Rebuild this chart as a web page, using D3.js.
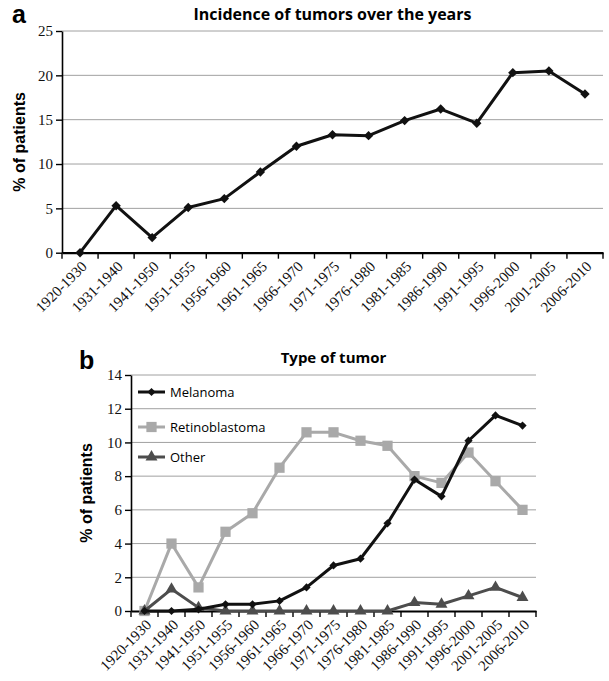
<!DOCTYPE html>
<html>
<head>
<meta charset="utf-8">
<script src="https://cdn.jsdelivr.net/npm/d3@7"></script>
<style>
  body { margin: 0; background: #fff; }
  svg { display: block; }
  .tick text { font-family: 'Liberation Serif', serif; font-size: 15px; fill: #111; }
  .panel-title { font-family: 'Open Sans', sans-serif; font-weight: 700; }
  .panel-letter { font-family: 'Liberation Sans', Arial, sans-serif; font-weight: 700; font-size: 25px; }
  .y-label { font-family: 'Liberation Sans', Arial, sans-serif; font-weight: 700; font-size: 16px; }
  .legend text { font-family: 'Open Sans', sans-serif; font-size: 13px; }
</style>
</head>
<body>
<div id="chart"></div>
<script>
'use strict';

// periods on the x axis (same for both panels)
const periods = ['1920-1930', '1931-1940', '1941-1950', '1951-1955', '1956-1960', '1961-1965',
  '1966-1970', '1971-1975', '1976-1980', '1981-1985', '1986-1990', '1991-1995',
  '1996-2000', '2001-2005', '2006-2010'];

// panel a: % of patients
const incidence = [0, 5.3, 1.7, 5.1, 6.1, 9.1, 12.0, 13.3, 13.2, 14.9, 16.2, 14.6, 20.3, 20.5, 17.9];
const incidenceTicks = [0, 5, 10, 15, 20, 25];

// panel b: type of tumor
const melanoma = [0, 0, 0.1, 0.4, 0.4, 0.6, 1.4, 2.7, 3.1, 5.2, 7.8, 6.8, 10.1, 11.6, 11.0];
const retinoblastoma = [0, 4.0, 1.4, 4.7, 5.8, 8.5, 10.6, 10.6, 10.1, 9.8, 8.0, 7.6, 9.4, 7.7, 6.0];
const other = [0, 1.3, 0.2, 0, 0, 0, 0, 0, 0, 0, 0.5, 0.4, 0.9, 1.4, 0.8];
const typeTicks = [0, 2, 4, 6, 8, 10, 12, 14];
const typeNames = ['Melanoma', 'Retinoblastoma', 'Other'];

const svg = d3.select('#chart').append('svg')
    .attr('width', 609)
    .attr('height', 681);

// marker shapes
const diamond = (size) => d3.symbol().type(d3.symbolSquare).size(size);
const shapes = {
  Melanoma: { color: '#111', path: diamond(34)(), rotate: 45 },
  Retinoblastoma: { color: '#a9a9a9', path: d3.symbol().type(d3.symbolSquare).size(105)(), rotate: 0 },
  Other: { color: '#4d4d4d', path: d3.symbol().type(d3.symbolTriangle).size(62)(), rotate: 0 }
};

function drawPanel(box, ticks) {
  const x = d3.scaleBand()
      .domain(periods)
      .range([box.left, box.right]);

  const y = d3.scaleLinear()
      .domain([0, d3.max(ticks)])
      .range([box.bottom, box.top]);

  const g = svg.append('g');

  // gridlines
  g.selectAll('.grid')
      .data(ticks.filter(t => t > 0))
    .enter().append('line')
      .attr('class', 'grid')
      .attr('x1', box.left)
      .attr('x2', box.right)
      .attr('y1', d => y(d))
      .attr('y2', d => y(d))
      .style('stroke', '#a0a0a0')
      .style('stroke-width', 1);

  // y axis
  const yAxis = g.append('g')
      .attr('transform', `translate(${box.left}, 0)`)
      .call(d3.axisLeft(y).tickValues(ticks).tickSize(6).tickSizeOuter(0).tickPadding(3));
  yAxis.select('.domain').style('stroke', '#000').style('stroke-width', 1.6);
  yAxis.selectAll('.tick line').style('stroke', '#000').style('stroke-width', 1.4);

  // x axis, labels at band centres
  const xAxis = g.append('g')
      .attr('transform', `translate(0, ${box.bottom})`)
      .call(d3.axisBottom(x).tickSize(0).tickSizeOuter(0));
  xAxis.select('.domain').style('stroke', '#000').style('stroke-width', 2.2);
  xAxis.selectAll('.tick text')
      .attr('x', 0)
      .attr('y', 0)
      .attr('dy', '0.35em')
      .attr('text-anchor', 'end')
      .attr('transform', 'translate(4, 11) rotate(-45)');

  // x ticks at band edges
  const edges = periods.map(p => x(p)).concat([box.right]);
  g.selectAll('.x-edge')
      .data(edges)
    .enter().append('line')
      .attr('x1', d => d)
      .attr('x2', d => d)
      .attr('y1', box.bottom)
      .attr('y2', box.bottom + 6)
      .style('stroke', '#000')
      .style('stroke-width', 1.4);

  return { g, x, y };
}

function drawSeries(panel, values, style, width) {
  const cx = (d, i) => panel.x(periods[i]) + panel.x.bandwidth() / 2;
  const line = d3.line()
      .x(cx)
      .y(d => panel.y(d));

  panel.g.append('path')
      .datum(values)
      .attr('d', line)
      .style('fill', 'none')
      .style('stroke', style.color)
      .style('stroke-width', width)
      .style('stroke-linejoin', 'round');

  panel.g.selectAll(null)
      .data(values)
    .enter().append('path')
      .attr('d', style.path)
      .attr('transform', (d, i) => `translate(${cx(d, i)}, ${panel.y(d)}) rotate(${style.rotate})`)
      .style('fill', style.color);
}

// ---- panel a ----
const a = drawPanel({ left: 62, right: 603, top: 31, bottom: 252.7 }, incidenceTicks);
drawSeries(a, incidence, { color: '#111', path: diamond(44)(), rotate: 45 }, 3);

svg.append('text')
    .attr('class', 'panel-letter')
    .attr('x', 12)
    .attr('y', 23)
    .text('a');

svg.append('text')
    .attr('class', 'panel-title')
    .attr('x', (62 + 603) / 2)
    .attr('y', 20)
    .attr('text-anchor', 'middle')
    .style('font-size', '16px')
    .text('Incidence of tumors over the years');

svg.append('text')
    .attr('class', 'y-label')
    .attr('text-anchor', 'middle')
    .attr('transform', `translate(25, ${(31 + 252.7) / 2}) rotate(-90)`)
    .text('% of patients');

// ---- panel b ----
const b = drawPanel({ left: 131, right: 536, top: 375, bottom: 611 }, typeTicks);
drawSeries(b, retinoblastoma, shapes.Retinoblastoma, 3);
drawSeries(b, other, shapes.Other, 3);
drawSeries(b, melanoma, shapes.Melanoma, 3);

svg.append('text')
    .attr('class', 'panel-letter')
    .attr('x', 79)
    .attr('y', 369)
    .text('b');

svg.append('text')
    .attr('class', 'panel-title')
    .attr('x', (131 + 536) / 2)
    .attr('y', 363)
    .attr('text-anchor', 'middle')
    .style('font-size', '15px')
    .text('Type of tumor');

svg.append('text')
    .attr('class', 'y-label')
    .attr('text-anchor', 'middle')
    .attr('transform', `translate(92, ${(375 + 611) / 2}) rotate(-90)`)
    .text('% of patients');

// legend
const legendY = [392, 427, 457];
const legend = svg.append('g')
    .attr('class', 'legend');

legend.selectAll('g')
    .data(typeNames)
  .enter().append('g')
    .attr('transform', (d, i) => `translate(138, ${legendY[i]})`)
    .each(function(name) {
      const item = d3.select(this);
      const s = shapes[name];
      item.append('line')
          .attr('x1', 0)
          .attr('x2', 27)
          .style('stroke', s.color)
          .style('stroke-width', 3);
      item.append('path')
          .attr('d', s.path)
          .attr('transform', `translate(13.5, 0) rotate(${s.rotate})`)
          .style('fill', s.color);
      item.append('text')
          .attr('x', 32)
          .attr('dy', '0.35em')
          .text(name);
    });
</script>
</body>
</html>
